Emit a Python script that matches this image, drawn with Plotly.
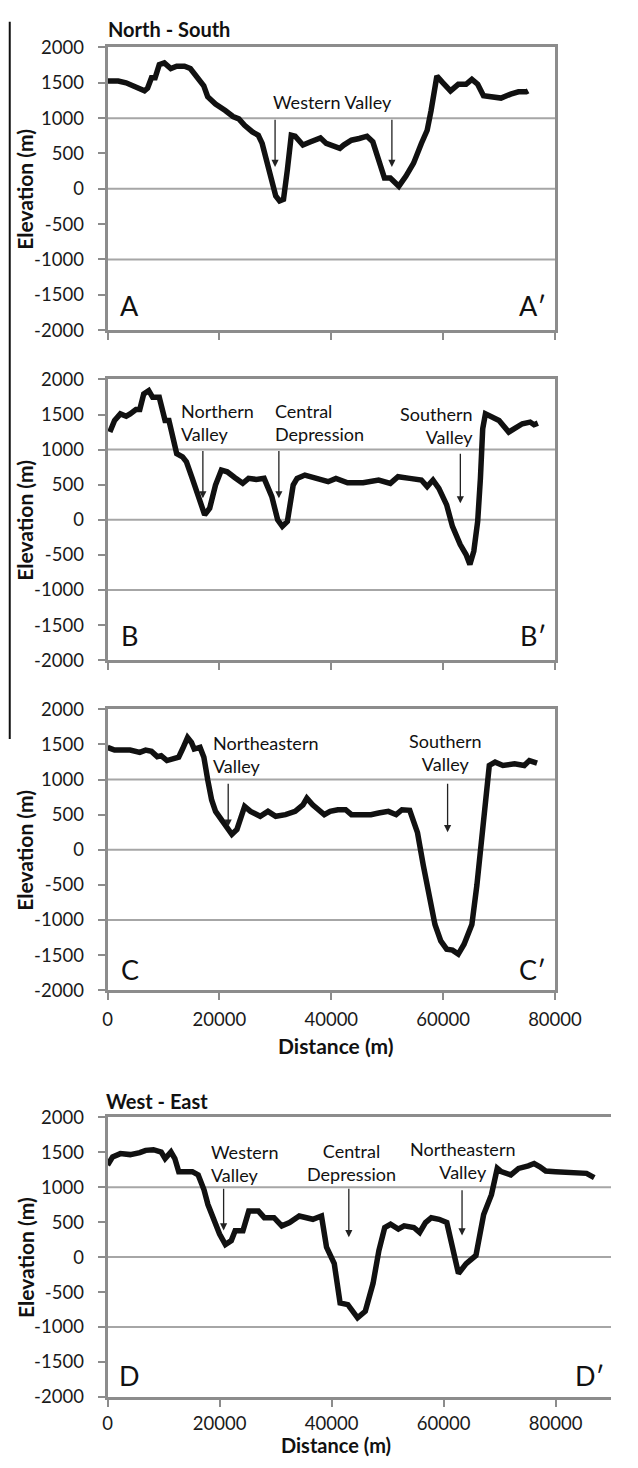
import plotly.graph_objects as go

W, H = 638, 1468

# ---------------- data (distance m, elevation m) ----------------
a_x = [0, 1900, 3300, 4700, 6100, 6600, 7150, 7850, 8500, 9240, 10140, 11300, 12360, 13750, 14800,
       16180, 17200, 17900, 19300, 21040, 22430, 23470, 24500, 25900, 26950, 27640, 28330, 29170,
       30070, 30760, 31460, 32150, 32850, 33540, 34930, 36320, 38060, 39100, 40830, 41530, 42220,
       43610, 45000, 46390, 47430, 48470, 49510, 50560, 52080, 53330, 54720, 56110, 57150, 57850,
       58890, 59930, 61320, 62710, 64100, 65140, 66180, 67220, 69300, 70350, 72080, 73470, 74860, 75200]
a_y = [1525, 1525, 1500, 1455, 1423, 1386, 1423, 1572, 1572, 1758, 1781, 1702, 1735, 1735, 1702,
       1572, 1456, 1302, 1200, 1107, 1023, 990, 898, 805, 758, 642, 409, 130,
       -102, -172, -149, 270, 758, 744, 619, 665, 721, 642, 595, 572, 619,
       688, 712, 744, 665, 409, 153, 153, 37, 177, 363, 642, 828, 1107,
       1595, 1502, 1386, 1479, 1479, 1549, 1479, 1316, 1302, 1284, 1340, 1372, 1372, 1386]

b_x = [400, 1250, 2290, 3330, 4030, 5070, 5760, 6460, 7360, 8060, 9240, 9930, 10280, 10970, 11800,
       12360, 13400, 14100, 15140, 16180, 17360, 18260, 19300, 20350, 21390, 22780, 24170, 25210,
       26600, 27990, 29370, 30410, 31250, 32150, 33190, 33890, 35280, 37360, 39440, 40830, 42910,
       45690, 48470, 50560, 51940, 54030, 56110, 57150, 58190, 59240, 60630, 61670, 63060, 64100,
       64790, 65490, 66180, 66670, 67080, 67570, 68610, 70000, 71740, 72780, 74170, 75560, 76250, 76940]
b_y = [1250, 1415, 1509, 1476, 1509, 1571, 1571, 1792, 1840, 1745, 1745, 1533, 1415, 1415, 1156,
       943, 896, 825, 590, 330, 71, 165, 495, 708, 684, 599, 519, 590,
       575, 590, 330, 0, -94, -24, 495, 590, 637, 590, 543, 590, 528,
       528, 566, 519, 613, 590, 566, 472, 566, 448, 212, -94, -354, -495,
       -637, -448, -24, 590, 1297, 1509, 1476, 1415, 1250, 1297, 1368, 1392, 1354, 1377]

c_x = [0, 1250, 4030, 5760, 6800, 7850, 8890, 9580, 10620, 11670, 12710, 13400, 14300, 15000, 15490,
       16530, 17220, 17920, 18610, 19310, 20350, 21390, 22220, 23130, 23820, 24510, 25560, 27290,
       28680, 30070, 31810, 33540, 34930, 35630, 36670, 37710, 38750, 39790, 41180, 42570, 43610,
       45350, 47080, 48470, 50210, 51600, 52640, 54030, 55420, 56460, 57500, 58540, 59580, 60630,
       61670, 62710, 63750, 65140, 66040, 66870, 67570, 68260, 69300, 70690, 72780, 74510, 75420, 76800]
c_y = [1458, 1420, 1420, 1388, 1420, 1402, 1327, 1341, 1271, 1294, 1318, 1435, 1598, 1528, 1435,
       1458, 1318, 991, 710, 547, 430, 336, 220, 290, 430, 617, 547, 477,
       547, 477, 500, 547, 640, 734, 640, 570, 500, 547, 570, 570, 500,
       500, 500, 523, 547, 500, 570, 561, 243, -224, -692, -1065, -1299, -1416,
       -1430, -1486, -1346, -1065, -505, 150, 850, 1201, 1248, 1201, 1224, 1201, 1271, 1234]

d_x = [0, 900, 2290, 4030, 5760, 6800, 8190, 9580, 10280, 11320, 12010, 12710, 13750, 15140, 16180,
       17220, 17920, 18960, 20000, 21040, 22090, 22780, 24170, 25210, 26940, 27990, 29720, 31110,
       32500, 34230, 36660, 38200, 39100, 40480, 41520, 42910, 44640, 46020, 47410, 48450, 49490,
       50530, 51920, 52960, 54690, 55730, 56770, 57810, 59200, 60580, 61620, 62660, 64040, 65780,
       67160, 68550, 69590, 70290, 72020, 73400, 75130, 76170, 77200, 78240, 80000, 82070, 84150,
       85530, 86910]
d_y = [1314, 1432, 1479, 1465, 1493, 1526, 1535, 1502, 1408, 1502, 1408, 1221, 1221, 1221, 1174,
       962, 751, 516, 329, 178, 235, 376, 376, 657, 657, 563, 563, 446,
       493, 587, 540, 587, 141, -94, -657, -681, -869, -775, -376, 94, 423,
       469, 399, 446, 423, 352, 493, 563, 540, 493, 94, -235, -94, 23,
       610, 892, 1268, 1221, 1174, 1268, 1305, 1338, 1291, 1230, 1221, 1211, 1197,
       1197, 1136]

y_ticks = [-2000, -1500, -1000, -500, 0, 500, 1000, 1500, 2000]
x_ticks = [0, 20000, 40000, 60000, 80000]
grid_levels = [1000, 0, -1000]

panel_titles = ["North - South", "West - East"]
end_labels = [("A", "A′"), ("B", "B′"), ("C", "C′"), ("D", "D′")]

# label text: (panel, text, x, y, align)
valley_labels = [
    (1, "Western Valley", 40250, 1230, "center"),
    (2, "Northern<br>Valley", 12690, 1380, "left"),
    (2, "Central<br>Depression", 29660, 1380, "left"),
    (2, "Southern<br>Valley", 65620, 1340, "right"),
    (3, "Northeastern<br>Valley", 18460, 1360, "left"),
    (3, "Southern<br>Valley", 60500, 1385, "center"),
    (4, "Western<br>Valley", 18170, 1335, "left"),
    (4, "Central<br>Depression", 43500, 1350, "center"),
    (4, "Northeastern<br>Valley", 63330, 1385, "center"),
]
# arrows: (panel, x, tail_y, tip_y)
valley_arrows = [
    (1, 29950, 1000, 310), (1, 50840, 1000, 310),
    (2, 17040, 1000, 305), (2, 30630, 1000, 305), (2, 63080, 962, 235),
    (3, 21570, 963, 330), (3, 60800, 962, 250),
    (4, 20720, 1000, 380), (4, 43080, 1000, 285), (4, 63300, 976, 309),
]

# ---------------- layout helpers ----------------
FONT = "Lato, 'Open Sans', sans-serif"
x_dom = [108 / W, 579 / W]
x_dom_d = [108 / W, 1.0]
def ydom(top, bot):
    return [1 - bot / H, 1 - top / H]
panel_px = [(36, 323), (373, 658), (708, 993), (1122, 1406)]
y_doms = [ydom(t, b) for t, b in panel_px]

def sfx(i):
    return "" if i == 1 else str(i)

fig = go.Figure()
series = [(a_x, a_y), (b_x, b_y), (c_x, c_y), (d_x, d_y)]
for i, (xs, ys) in enumerate(series, start=1):
    fig.add_trace(go.Scatter(x=xs, y=ys, mode="lines",
                             line=dict(color="#111111", width=5.5),
                             xaxis=f"x{sfx(i)}", yaxis=f"y{sfx(i)}", showlegend=False,
                             hoverinfo="skip"))

BORDER = "#8c8c8c"
GRID = "#a6a6a6"
TICKFONT = dict(size=18.5, color="#1a1a1a")
layout = dict(width=W, height=H, margin=dict(l=0, r=0, t=0, b=0),
              paper_bgcolor="white", plot_bgcolor="white",
              font=dict(family=FONT, color="#1a1a1a", size=17))
for i in range(1, 5):
    xr = [0, 89900] if i == 4 else [0, 80000]
    layout[f"xaxis{sfx(i)}"] = dict(
        domain=x_dom_d if i == 4 else x_dom, anchor=f"y{sfx(i)}", range=xr,
        tickmode="array", tickvals=x_ticks, ticktext=[str(v) for v in x_ticks],
        showticklabels=(i >= 3), ticks="outside", ticklen=7, tickwidth=2, tickcolor=BORDER,
        showline=True, linecolor=BORDER, linewidth=3, mirror=True,
        showgrid=False, zeroline=False, tickfont=TICKFONT,
        ticklabelstandoff=1 if i == 4 else 4)
    layout[f"yaxis{sfx(i)}"] = dict(
        domain=y_doms[i - 1], anchor=f"x{sfx(i)}", range=[-2000, 2000],
        tickmode="array", tickvals=y_ticks, ticktext=[str(v) for v in y_ticks],
        ticks="outside", ticklen=7, tickwidth=2, tickcolor=BORDER,
        showline=True, linecolor=BORDER, linewidth=3, mirror=(i != 4),
        showgrid=False, zeroline=False, tickfont=TICKFONT,
        ticklabelstandoff=10)
fig.update_layout(**layout)

shapes = []
for i in range(1, 5):
    for g in grid_levels:
        shapes.append(dict(type="line", xref=f"x{sfx(i)} domain", x0=0, x1=1,
                           yref=f"y{sfx(i)}", y0=g, y1=g,
                           line=dict(color=GRID, width=2), layer="below"))
# stray vertical rule at left edge of the scanned figure
shapes.append(dict(type="line", xref="paper", yref="paper", x0=5 / W, x1=5 / W,
                   y0=1 - 738 / H, y1=1 - 10 / H, line=dict(color="#111", width=2)))
fig.update_layout(shapes=shapes)

BOLD = 21
ann = []
for i in range(1, 5):
    top, bot = panel_px[i - 1]
    ann.append(dict(text="<b>Elevation (m)</b>", xref="paper", yref="paper",
                    x=21 / W, y=1 - (top + bot) / 2 / H, textangle=-90, showarrow=False,
                    font=dict(size=BOLD, color="#111"), xanchor="center", yanchor="middle"))
ann.append(dict(text="<b>Distance (m)</b>", xref="paper", yref="paper",
                x=348 / W, y=1 - 1049 / H, showarrow=False,
                font=dict(size=BOLD, color="#111"), xanchor="center", yanchor="middle"))
ann.append(dict(text="<b>Distance (m)</b>", xref="paper", yref="paper",
                x=348 / W, y=0, showarrow=False, borderpad=0,
                font=dict(size=20, color="#111"), xanchor="center", yanchor="bottom"))
ann.append(dict(text=f"<b>{panel_titles[0]}</b>", xref="paper", yref="paper",
                x=106 / W, y=1 - 17 / H, showarrow=False, xanchor="left", yanchor="middle",
                font=dict(size=20, color="#111")))
ann.append(dict(text=f"<b>{panel_titles[1]}</b>", xref="paper", yref="paper",
                x=104 / W, y=1 - 1106 / H, showarrow=False, xanchor="left", yanchor="middle",
                font=dict(size=20, color="#111")))
for i, (l, r) in enumerate(end_labels, start=1):
    yv = -1650 if i <= 2 else -1700
    ann.append(dict(text=l, xref=f"x{sfx(i)}", yref=f"y{sfx(i)}", x=4000, y=yv, showarrow=False,
                    xanchor="center", yanchor="middle", font=dict(size=27, color="#111")))
    ann.append(dict(text=r, xref=f"x{sfx(i)}", yref=f"y{sfx(i)}", x=86000 if i == 4 else 76000,
                    y=yv, showarrow=False, xanchor="center", yanchor="middle",
                    font=dict(size=27, color="#111")))
for p, t, x, y, al in valley_labels:
    ann.append(dict(text=t, xref=f"x{sfx(p)}", yref=f"y{sfx(p)}", x=x, y=y, showarrow=False,
                    xanchor=al, yanchor="middle", align=al,
                    font=dict(size=18, color="#111")))
for p, x, ty, hy in valley_arrows:
    ann.append(dict(text="", xref=f"x{sfx(p)}", yref=f"y{sfx(p)}",
                    axref=f"x{sfx(p)}", ayref=f"y{sfx(p)}",
                    x=x, y=hy, ax=x, ay=ty, showarrow=True, arrowhead=2, arrowsize=1.1,
                    arrowwidth=1.3, arrowcolor="#222", standoff=0, startstandoff=0))
fig.update_layout(annotations=ann)

fig.write_html("out.html")
